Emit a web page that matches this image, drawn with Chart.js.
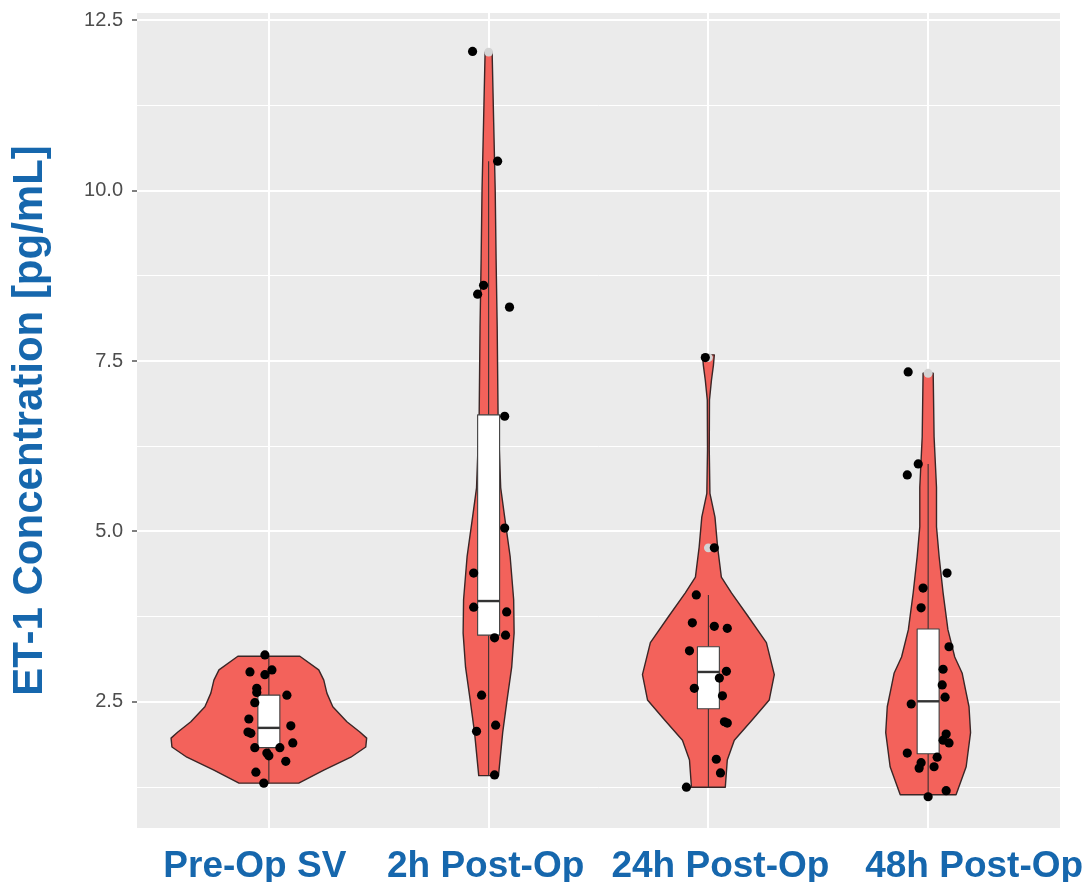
<!DOCTYPE html>
<html>
<head>
<meta charset="utf-8">
<title>ET-1 Concentration</title>
<script src="https://cdn.jsdelivr.net/npm/chart.js@4.4.1/dist/chart.umd.min.js"></script>
<style>
  html, body { margin: 0; padding: 0; background: #ffffff; }
  #wrap { width: 1092px; height: 882px; }
</style>
</head>
<body>
<div id="wrap"><canvas id="violinChart" width="1092" height="882"></canvas></div>
<script>
// categories
const groups = ["Pre-Op SV", "2h Post-Op", "24h Post-Op", "48h Post-Op"];

// y axis ticks (major every 2.5, minor in between)
const yTicks = [1.25, 2.5, 3.75, 5, 6.25, 7.5, 8.75, 10, 11.25, 12.5];
const yTickLabels = ["", "2.5", "", "5.0", "", "7.5", "", "10.0", "", "12.5"];

// violin outlines: value and half width (in category widths)
const preOpDensY = [3.17, 2.97, 2.82, 2.63, 2.43, 2.21, 2.06, 1.97, 1.84, 1.69, 1.5, 1.31];
const preOpDensW = [0.141, 0.227, 0.25, 0.264, 0.291, 0.355, 0.414, 0.445, 0.441, 0.373, 0.25, 0.136];
const h2DensY = [12.03, 11.0, 10.0, 9.0, 8.0, 6.7, 5.64, 5.21, 4.63, 4.0, 3.51, 3.01, 2.53, 2.05, 1.42];
const h2DensW = [0.016, 0.023, 0.03, 0.034, 0.039, 0.043, 0.055, 0.073, 0.098, 0.114, 0.116, 0.105, 0.084, 0.064, 0.045];
const h24DensY = [7.59, 7.44, 7.22, 6.93, 6.2, 5.56, 5.21, 4.77, 4.33, 4.1, 3.75, 3.37, 2.9, 2.53, 2.24, 1.94, 1.65, 1.25];
const h24DensW = [0.027, 0.023, 0.014, 0.005, 0.004, 0.007, 0.03, 0.042, 0.059, 0.105, 0.182, 0.264, 0.3, 0.277, 0.2, 0.118, 0.086, 0.077];
const h48DensY = [7.32, 6.39, 5.65, 5.07, 4.63, 4.1, 3.56, 3.16, 2.92, 2.68, 2.43, 2.05, 1.55, 1.14];
const h48DensW = [0.023, 0.027, 0.038, 0.038, 0.05, 0.068, 0.09, 0.121, 0.155, 0.17, 0.186, 0.193, 0.173, 0.127];

// boxplot stats
const whiskerLo = [1.3, 1.42, 1.25, 1.11];
const boxQ1 = [1.83, 3.48, 2.4, 1.74];
const boxMed = [2.12, 3.98, 2.94, 2.51];
const boxQ3 = [2.6, 6.71, 3.31, 3.57];
const whiskerHi = [3.17, 10.43, 4.07, 5.99];

// boxplot outliers
const outlierGroup = [2, 3, 3, 4];
const outlierY = [12.03, 7.55, 4.76, 7.32];

// jittered measurements (offset from category centre, in category widths)
const preOpY = [3.19, 2.94, 2.9, 2.97, 2.7, 2.64, 2.49, 2.6, 2.25, 2.06, 2.04, 2.15, 1.9, 1.83, 1.75, 1.83, 1.71, 1.63, 1.47, 1.31];
const preOpJit = [-0.018, -0.086, -0.018, 0.014, -0.055, -0.055, -0.064, 0.082, -0.091, -0.095, -0.082, 0.1, 0.109, -0.064, -0.009, 0.05, 0, 0.077, -0.059, -0.023];
const h2Y = [12.04, 10.43, 8.61, 8.48, 8.29, 6.69, 5.05, 4.39, 3.89, 3.82, 3.48, 3.44, 2.6, 2.07, 2.16, 1.43];
const h2Jit = [-0.073, 0.041, -0.023, -0.05, 0.095, 0.073, 0.073, -0.068, -0.068, 0.082, 0.077, 0.027, -0.032, -0.055, 0.032, 0.027];
const h24Y = [1.25, 1.46, 1.66, 2.21, 2.19, 2.59, 2.7, 2.95, 3.25, 3.61, 3.58, 3.66, 4.07, 4.76, 7.55, 2.85];
const h24Jit = [-0.1, 0.055, 0.036, 0.073, 0.086, 0.064, -0.064, 0.082, -0.086, 0.027, 0.086, -0.073, -0.055, 0.027, -0.014, 0.05];
const h48Y = [7.34, 5.99, 5.83, 4.39, 4.17, 3.88, 3.31, 2.98, 2.75, 2.57, 2.47, 2.03, 1.9, 1.94, 1.75, 1.69, 1.61, 1.53, 1.55, 1.2, 1.11];
const h48Jit = [-0.091, -0.045, -0.095, 0.086, -0.023, -0.032, 0.095, 0.068, 0.064, 0.077, -0.077, 0.082, 0.095, 0.068, -0.095, 0.041, -0.032, -0.041, 0.027, 0.082, 0];

const violins = [
  { y: preOpDensY, w: preOpDensW },
  { y: h2DensY, w: h2DensW },
  { y: h24DensY, w: h24DensW },
  { y: h48DensY, w: h48DensW },
];
const jitterSets = [
  [preOpY, preOpJit],
  [h2Y, h2Jit],
  [h24Y, h24Jit],
  [h48Y, h48Jit],
];

const FONT = "'Liberation Sans', Arial, Helvetica, sans-serif";
const BLUE = "#1667ad";
const BOX_HALF = 0.05;
// small horizontal nudges of the category labels, as placed in the original figure
const labelNudge = [-14, -3, 12, 46];

function jitterPoints() {
  const pts = [];
  jitterSets.forEach(([ys, js], i) => {
    ys.forEach((v, k) => pts.push({ x: i + 1 + js[k], y: v }));
  });
  return pts;
}

const violinPlugin = {
  id: "violins",
  beforeDraw(chart) {
    const { ctx, chartArea: a } = chart;
    ctx.save();
    ctx.fillStyle = "#ebebeb";
    ctx.fillRect(a.left, a.top, a.right - a.left, a.bottom - a.top);
    ctx.restore();
  },
  beforeDatasetsDraw(chart) {
    const { ctx, chartArea: a } = chart;
    const x = chart.scales.x;
    const y = chart.scales.y;
    ctx.save();
    ctx.beginPath();
    ctx.rect(a.left, a.top, a.right - a.left, a.bottom - a.top);
    ctx.clip();
    ctx.lineJoin = "round";

    violins.forEach((v, i) => {
      const c = i + 1;
      ctx.beginPath();
      v.y.forEach((val, k) => {
        const px = x.getPixelForValue(c + v.w[k]);
        const py = y.getPixelForValue(val);
        if (k === 0) ctx.moveTo(px, py);
        else ctx.lineTo(px, py);
      });
      for (let k = v.y.length - 1; k >= 0; k--) {
        ctx.lineTo(x.getPixelForValue(c - v.w[k]), y.getPixelForValue(v.y[k]));
      }
      ctx.closePath();
      ctx.fillStyle = "#f3625b";
      ctx.fill();
      ctx.strokeStyle = "#3b2626";
      ctx.lineWidth = 1.4;
      ctx.stroke();
    });

    groups.forEach((g, i) => {
      const c = i + 1;
      const cx = x.getPixelForValue(c);
      const x0 = x.getPixelForValue(c - BOX_HALF);
      const x1 = x.getPixelForValue(c + BOX_HALF);
      const yq1 = y.getPixelForValue(boxQ1[i]);
      const yq3 = y.getPixelForValue(boxQ3[i]);
      const ymed = y.getPixelForValue(boxMed[i]);

      ctx.strokeStyle = "#3a3030";
      ctx.lineWidth = 1.1;
      ctx.beginPath();
      ctx.moveTo(cx, y.getPixelForValue(whiskerLo[i]));
      ctx.lineTo(cx, yq1);
      ctx.moveTo(cx, yq3);
      ctx.lineTo(cx, y.getPixelForValue(whiskerHi[i]));
      ctx.stroke();

      ctx.fillStyle = "#ffffff";
      ctx.fillRect(x0, yq3, x1 - x0, yq1 - yq3);
      ctx.strokeStyle = "#404040";
      ctx.lineWidth = 1.1;
      ctx.strokeRect(x0, yq3, x1 - x0, yq1 - yq3);

      ctx.strokeStyle = "#333333";
      ctx.lineWidth = 2.4;
      ctx.beginPath();
      ctx.moveTo(x0, ymed);
      ctx.lineTo(x1, ymed);
      ctx.stroke();
    });
    ctx.restore();
  },
  afterDraw(chart) {
    const { ctx, chartArea: a } = chart;
    const x = chart.scales.x;
    ctx.save();
    ctx.font = "bold 37px " + FONT;
    ctx.fillStyle = BLUE;
    ctx.textAlign = "center";
    ctx.textBaseline = "alphabetic";
    groups.forEach((g, i) => {
      ctx.fillText(g, x.getPixelForValue(i + 1) + labelNudge[i], a.bottom + 49);
    });
    ctx.restore();
  },
};

const isMajor = (ctx) => ctx.tick && yTickLabels[yTicks.indexOf(ctx.tick.value)] !== "";

const chart = new Chart(document.getElementById("violinChart"), {
  type: "scatter",
  data: {
    datasets: [
      {
        label: "Measurements",
        data: jitterPoints(),
        backgroundColor: "#000000",
        borderWidth: 0,
        pointRadius: 4.6,
        pointHoverRadius: 4.6,
      },
      {
        label: "Outliers",
        data: outlierGroup.map((g, k) => ({ x: g, y: outlierY[k] })),
        backgroundColor: "#d4d4d4",
        borderWidth: 0,
        pointRadius: 4.4,
        pointHoverRadius: 4.4,
      },
    ],
  },
  options: {
    responsive: false,
    animation: false,
    devicePixelRatio: 1,
    layout: { padding: { top: 13, right: 32, left: 0, bottom: 0 } },
    plugins: {
      legend: { display: false },
      tooltip: { enabled: false },
    },
    scales: {
      x: {
        type: "linear",
        min: 0.4,
        max: 4.6,
        afterBuildTicks: (scale) => {
          scale.ticks = groups.map((g, i) => ({ value: i + 1 }));
        },
        afterFit: (scale) => {
          scale.height = 54;
          scale.paddingLeft = 0;
          scale.paddingRight = 0;
        },
        grid: { color: "#ffffff", lineWidth: 2, drawTicks: false },
        border: { display: false },
        ticks: { display: false },
      },
      y: {
        type: "linear",
        min: 0.652,
        max: 12.603,
        afterBuildTicks: (scale) => {
          scale.ticks = yTicks.map((v) => ({ value: v }));
        },
        afterFit: (scale) => {
          scale.width = 137;
          scale.paddingTop = 0;
          scale.paddingBottom = 0;
        },
        grid: {
          color: "#ffffff",
          lineWidth: (ctx) => (isMajor(ctx) ? 2 : 1),
          tickColor: (ctx) => (isMajor(ctx) ? "#555555" : "rgba(0,0,0,0)"),
          tickLength: 5,
          tickWidth: 1.5,
        },
        border: { display: false },
        ticks: {
          padding: 9,
          color: "#4d4d4d",
          font: { family: FONT, size: 20 },
          callback: (value) => {
            const k = yTicks.indexOf(value);
            return k >= 0 ? yTickLabels[k] : "";
          },
        },
        title: {
          display: true,
          text: "ET-1 Concentration [pg/mL]",
          color: BLUE,
          font: { family: FONT, size: 42, weight: "bold", lineHeight: 1.2 },
          padding: { top: 5, bottom: 0 },
        },
      },
    },
  },
  plugins: [violinPlugin],
});
</script>
</body>
</html>
